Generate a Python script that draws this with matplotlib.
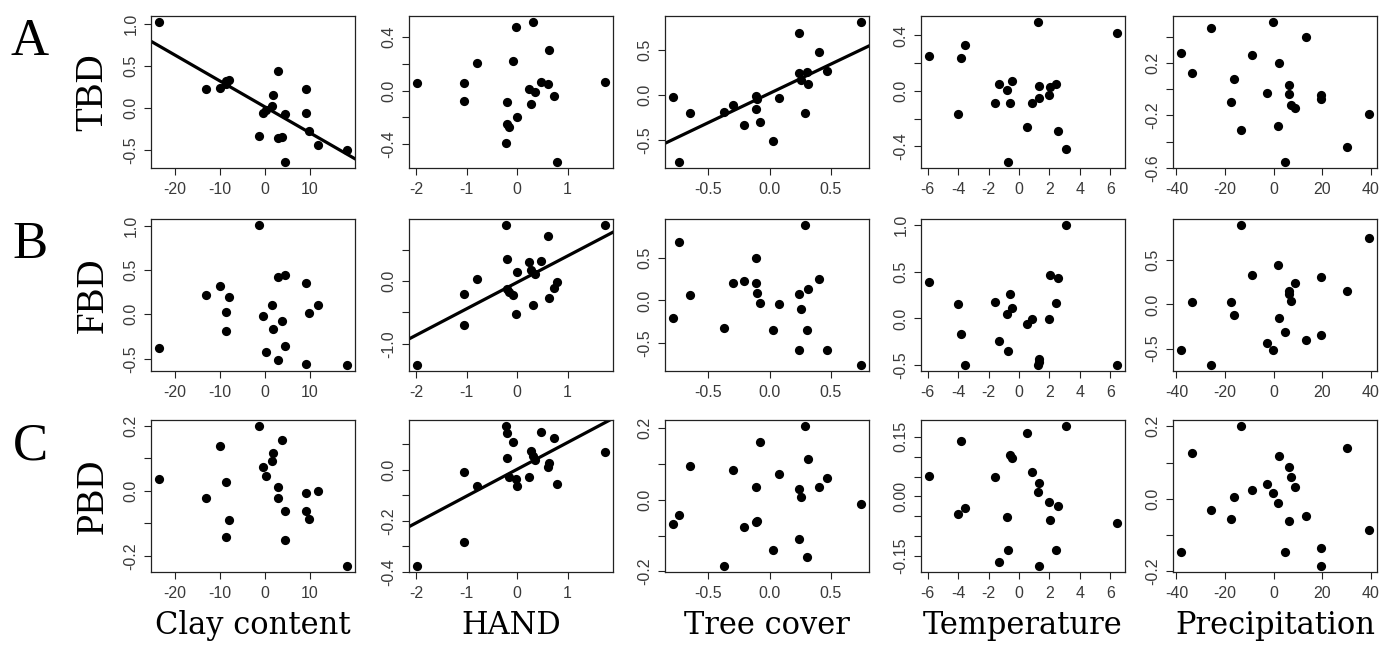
import numpy as np
import matplotlib
matplotlib.use("Agg")
import matplotlib.pyplot as plt

# ---------------- data ----------------
clay_x = [-23.6, -13.1, -10.0, -8.6, -8.6, -8.0, -1.4, -0.5, 0.2, 1.6, 1.8,
          3.0, 3.0, 3.7, 4.4, 4.4, 9.0, 9.0, 9.7, 11.7, 18.3]
hand_x = [-1.99, -1.05, -1.05, -0.79, -0.22, -0.20, -0.19, -0.16, -0.09, -0.03,
          -0.01, 0.23, 0.28, 0.31, 0.36, 0.48, 0.61, 0.64, 0.73, 0.79, 1.75]
tree_x = [-0.794, -0.738, -0.648, -0.375, -0.301, -0.208, -0.107, -0.107, -0.099,
          -0.076, 0.031, 0.079, 0.239, 0.245, 0.254, 0.29, 0.31, 0.318, 0.403,
          0.468, 0.752]
temp_x = [-5.94, -4.0, -3.84, -3.57, -1.55, -1.3, -0.8, -0.73, -0.62, -0.46,
          0.55, 0.87, 1.26, 1.33, 1.33, 1.97, 2.06, 2.42, 2.58, 3.11, 6.47]
precip_x = [-38.3, -33.7, -25.9, -17.7, -16.3, -13.5, -9.0, -2.8, -0.4, 1.7,
            2.2, 4.6, 6.3, 6.3, 7.3, 8.6, 13.2, 19.4, 19.4, 30.2, 39.4]

tbd_clay = [1.03, 0.22, 0.24, 0.28, 0.32, 0.33, -0.33, -0.06, -0.03, 0.02, 0.16,
            0.44, -0.36, -0.35, -0.07, -0.65, 0.22, -0.06, -0.28, -0.44, -0.50]
tbd_hand = [0.058, 0.058, -0.075, 0.208, -0.393, -0.088, -0.25, -0.273, 0.218,
            0.475, -0.2, 0.013, -0.098, 0.515, -0.013, 0.068, 0.048, 0.303,
            -0.038, -0.535, 0.068]
tbd_tree = [-0.022, -0.753, -0.199, -0.187, -0.112, -0.33, -0.011, -0.154, -0.049,
            -0.30, -0.509, -0.03, 0.689, 0.251, 0.169, -0.206, 0.262, 0.127,
            0.476, 0.27, 0.82]
tbd_temp = [0.25, -0.17, 0.238, 0.332, -0.085, 0.053, 0.007, -0.516, -0.085,
            0.073, -0.26, -0.09, 0.50, 0.036, -0.053, -0.03, 0.029, 0.053,
            -0.286, -0.417, 0.42]
tbd_precip = [0.277, 0.123, 0.466, -0.097, 0.079, -0.311, 0.259, -0.027, 0.515,
              -0.283, 0.2, -0.554, 0.032, -0.04, -0.117, -0.143, 0.401, -0.045,
              -0.071, -0.437, -0.192]

fbd_clay = [-0.385, 0.215, 0.32, 0.026, -0.19, 0.20, 1.01, -0.02, -0.43, 0.106,
            -0.17, -0.52, 0.415, -0.07, 0.446, -0.36, 0.35, -0.555, 0.01, 0.11,
            -0.575]
fbd_hand = [-1.345, -0.203, -0.694, 0.037, 0.897, -0.133, 0.347, -0.17, -0.224,
            -0.534, 0.144, 0.294, 0.171, -0.39, 0.117, 0.31, 0.72, -0.267,
            -0.117, -0.016, 0.897]
fbd_tree = [-0.21, 0.694, 0.06, -0.33, 0.21, 0.226, 0.496, 0.21, 0.091, -0.028,
            -0.345, -0.048, -0.587, 0.079, -0.107, 0.893, -0.345, 0.139, 0.25,
            -0.587, -0.766]
fbd_temp = [0.39, 0.157, -0.164, -0.50, 0.175, -0.236, 0.05, -0.343, 0.257,
            0.107, -0.057, -0.01, -0.50, -0.43, -0.468, -0.01, 0.464, 0.16, 0.43,
            1.0, -0.50]
fbd_precip = [-0.52, 0.023, -0.69, 0.023, -0.123, 0.904, 0.33, -0.44, -0.52,
              0.446, -0.154, -0.315, 0.154, 0.115, 0.038, 0.242, -0.404, 0.308,
              -0.346, 0.154, 0.754]

pbd_clay = [0.036, -0.021, 0.137, 0.028, -0.141, -0.09, 0.20, 0.072, 0.044, 0.09,
            0.115, 0.013, -0.021, 0.155, -0.062, -0.152, -0.007, -0.062, -0.086,
            0.0, -0.232]
pbd_hand = [-0.378, -0.008, -0.283, -0.063, 0.173, 0.143, 0.046, -0.03, 0.108,
            -0.037, -0.063, -0.028, 0.072, 0.055, 0.038, 0.147, 0.012, 0.025,
            0.123, -0.054, 0.068]
pbd_tree = [-0.067, -0.042, 0.093, -0.186, 0.082, -0.075, 0.037, -0.061, -0.058,
            0.162, -0.139, 0.071, -0.109, 0.031, 0.007, 0.207, -0.161, 0.115,
            0.037, 0.061, -0.013]
pbd_temp = [0.052, -0.045, 0.139, -0.029, 0.05, -0.166, -0.051, -0.134, 0.104,
            0.097, 0.159, 0.062, 0.01, 0.034, -0.176, -0.013, -0.06, -0.134,
            -0.025, 0.178, -0.067]
pbd_precip = [-0.147, 0.127, -0.03, -0.055, 0.006, 0.202, 0.023, 0.042, 0.017,
              -0.011, 0.117, -0.147, 0.089, -0.061, 0.061, 0.031, -0.047, -0.136,
              -0.187, 0.139, -0.086]

# fitted lines (intercept, slope) for the significant panels
fit_tbd_clay = (0.012, -0.031)
fit_tbd_tree = (0.018, 0.652)
fit_fbd_hand = (-0.023, 0.421)
fit_pbd_hand = (0.002, 0.105)

predictors = ["Clay content", "HAND", "Tree cover", "Temperature", "Precipitation"]
responses = ["TBD", "FBD", "PBD"]
panel_letters = ["A", "B", "C"]

x_ticks = {
    "Clay content": [-20, -10, 0, 10],
    "HAND": [-2, -1, 0, 1],
    "Tree cover": [-0.5, 0.0, 0.5],
    "Temperature": [-6, -4, -2, 0, 2, 4, 6],
    "Precipitation": [-40, -20, 0, 20, 40],
}
x_ticklabels = {
    "Clay content": ["-20", "-10", "0", "10"],
    "HAND": ["-2", "-1", "0", "1"],
    "Tree cover": ["-0.5", "0.0", "0.5"],
    "Temperature": ["-6", "-4", "-2", "0", "2", "4", "6"],
    "Precipitation": ["-40", "-20", "0", "20", "40"],
}

y_ticks = [
    [[-0.5, 0.0, 0.5, 1.0], [-0.4, -0.2, 0.0, 0.2, 0.4], [-0.5, 0.0, 0.5],
     [-0.4, -0.2, 0.0, 0.2, 0.4], [-0.6, -0.4, -0.2, 0.0, 0.2, 0.4]],
    [[-0.5, 0.0, 0.5, 1.0], [-1.0, -0.5, 0.0, 0.5], [-0.5, 0.0, 0.5],
     [-0.5, 0.0, 0.5, 1.0], [-0.5, 0.0, 0.5]],
    [[-0.2, -0.1, 0.0, 0.1, 0.2], [-0.4, -0.3, -0.2, -0.1, 0.0, 0.1],
     [-0.2, -0.1, 0.0, 0.1, 0.2], [-0.15, -0.10, -0.05, 0.0, 0.05, 0.10, 0.15],
     [-0.2, -0.1, 0.0, 0.1, 0.2]],
]
y_ticklabels = [
    [["-0.5", "0.0", "0.5", "1.0"], ["-0.4", "", "0.0", "", "0.4"],
     ["-0.5", "0.0", "0.5"], ["-0.4", "", "0.0", "", "0.4"],
     ["-0.6", "", "-0.2", "", "0.2", ""]],
    [["-0.5", "0.0", "0.5", "1.0"], ["-1.0", "", "0.0", ""],
     ["-0.5", "0.0", "0.5"], ["-0.5", "0.0", "0.5", "1.0"],
     ["-0.5", "0.0", "0.5"]],
    [["-0.2", "", "0.0", "", "0.2"], ["-0.4", "", "-0.2", "", "0.0", ""],
     ["-0.2", "", "0.0", "", "0.2"], ["-0.15", "", "", "0.00", "", "", "0.15"],
     ["-0.2", "", "0.0", "", "0.2"]],
]

xs = [clay_x, hand_x, tree_x, temp_x, precip_x]
ys = [
    [tbd_clay, tbd_hand, tbd_tree, tbd_temp, tbd_precip],
    [fbd_clay, fbd_hand, fbd_tree, fbd_temp, fbd_precip],
    [pbd_clay, pbd_hand, pbd_tree, pbd_temp, pbd_precip],
]
fits = {(0, 0): fit_tbd_clay, (0, 2): fit_tbd_tree,
        (1, 1): fit_fbd_hand, (2, 1): fit_pbd_hand}

# ---------------- layout ----------------
W, H = 1393, 650
fig = plt.figure(figsize=(W / 100, H / 100), dpi=100)
fig.patch.set_facecolor("white")
col_left = [151, 409, 665, 921, 1173]
row_top = [16, 219, 420]
pw, ph = 204, 152

tick_font = "Liberation Sans"
serif = "Liberation Serif"
label_serif = "DejaVu Serif"


def r_range(v):
    lo, hi = min(v), max(v)
    d = (hi - lo) * 0.04
    return lo - d, hi + d


for r in range(3):
    for c in range(5):
        ax = fig.add_axes([col_left[c] / W, 1 - (row_top[r] + ph) / H, pw / W, ph / H])
        x = xs[c]
        y = ys[r][c]
        ax.scatter(x, y, s=44, c="black", linewidths=0, zorder=3)
        ax.set_xlim(*r_range(x))
        ax.set_ylim(*r_range(y))
        if (r, c) in fits:
            b, m = fits[(r, c)]
            ax.axline((0, b), slope=m, color="black", lw=2.3, zorder=2)
        name = predictors[c]
        ax.set_xticks(x_ticks[name])
        ax.set_xticklabels(x_ticklabels[name])
        ax.set_yticks(y_ticks[r][c])
        ax.set_yticklabels(y_ticklabels[r][c], rotation=90, va="center")
        ax.tick_params(axis="both", direction="out", length=5, width=0.8,
                       colors="#222222", labelsize=11.5, labelcolor="#3a3a3a")
        ax.tick_params(axis="x", pad=5)
        ax.tick_params(axis="y", pad=4)
        for lab in ax.get_xticklabels() + ax.get_yticklabels():
            lab.set_family(tick_font)
        for sp in ax.spines.values():
            sp.set_linewidth(0.9)
            sp.set_color("#222222")

# row labels and panel letters
for r in range(3):
    yc = 1 - (row_top[r] + ph / 2) / H
    fig.text(93 / W, yc, responses[r], rotation=90, ha="center", va="center",
             family=serif, fontsize=28)
    fig.text(30 / W, 1 - (row_top[r] + 26) / H, panel_letters[r], ha="center",
             va="center", family=serif, fontsize=38)

# column labels
for c in range(5):
    fig.text((col_left[c] + pw / 2) / W, 1 - 634 / H, predictors[c], ha="center",
             va="baseline", family=label_serif, fontsize=22)

fig.savefig("out.png", dpi=100, facecolor="white")
